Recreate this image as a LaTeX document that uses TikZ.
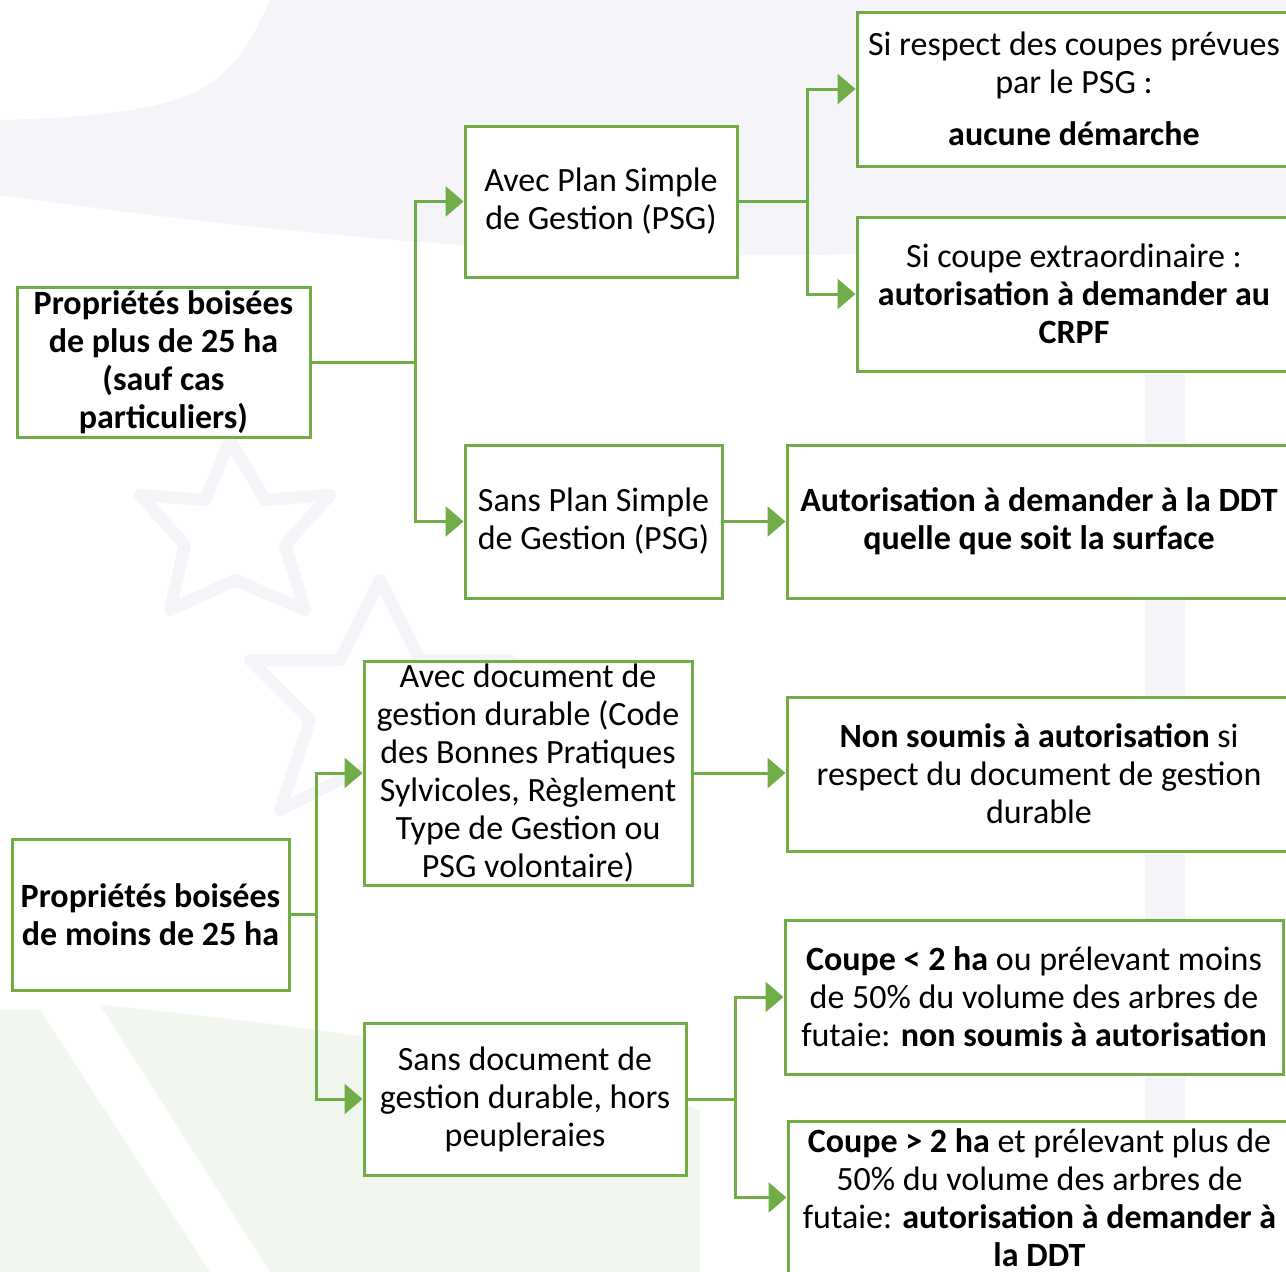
\documentclass[tikz,border=0pt]{standalone}
\usepackage{fontspec}
\setmainfont{Carlito}
\usetikzlibrary{arrows.meta}

\definecolor{psggreen}{HTML}{70AD47}
\definecolor{marklav}{HTML}{F4F4F9}
\definecolor{markgreen}{HTML}{F1F7EF}

\tikzset{
  box/.style={draw=psggreen, line width=3pt, fill=white, align=center, inner sep=0pt},
  link/.style={draw=psggreen, line width=3pt, line join=miter},
  arrowlink/.style={link, -{Triangle[length=18pt,width=30pt]}},
}

\begin{document}
\begin{tikzpicture}[x=1pt,y=-1pt,font=\fontsize{34}{38}\selectfont]
\clip (0,0) rectangle (1286,1272);
\fill[white] (0,0) rectangle (1286,1272);
% faint watermark behind the chart
\fill[marklav] (270,0) .. controls (230,90) and (200,115) .. (0,120) -- (0,195)
  .. controls (250,230) and (600,270) .. (950,250) -- (1286,250) -- (1286,0) -- cycle;
\fill[marklav] (1145,0) rectangle (1185,1272);
\fill[markgreen] (0,1010) -- (40,1010) -- (210,1272) -- (0,1272) -- cycle;
\fill[markgreen] (100,1005) .. controls (350,1030) and (550,1060) .. (700,1110)
  -- (700,1272) -- (270,1272) -- cycle;
\draw[marklav, line width=12pt, line join=round]
  (230,440) -- (265,500) -- (330,495) -- (285,545) -- (305,610) -- (235,580)
  -- (170,610) -- (185,545) -- (140,495) -- (205,500) -- cycle;
\draw[marklav, line width=12pt, line join=round]
  (380,580) -- (420,660) -- (510,660) -- (450,720) -- (480,810) -- (380,760)
  -- (280,810) -- (310,720) -- (250,660) -- (340,660) -- cycle;

% properties over 25 ha
\node[box, minimum width=293pt, minimum height=150pt, font=\fontsize{34}{38}\selectfont\bfseries]
  (plus) at (163.5,362) {Propriétés boisées\\ de plus de 25 ha\\ (sauf cas\\ particuliers)};
\node[box, minimum width=272pt, minimum height=151pt] (avecpsg) at (601,201.5)
  {Avec Plan Simple\\ de Gestion (PSG)};
\node[box, minimum width=257pt, minimum height=153pt] (sanspsg) at (593.5,521.5)
  {Sans Plan Simple\\ de Gestion (PSG)};
\node[box, minimum width=434pt, minimum height=154pt] (respect) at (1074,89)
  {Si respect des coupes prévues\\ par le PSG :\\[14pt] \textbf{aucune démarche}};
\node[box, minimum width=434pt, minimum height=154pt] (extra) at (1074,294)
  {Si coupe extraordinaire :\\ \textbf{autorisation à demander au}\\ \textbf{CRPF}};
\node[box, minimum width=504pt, minimum height=153pt] (ddt) at (1039,521.5)
  {\textbf{Autorisation à demander à la DDT}\\ \textbf{quelle que soit la surface}};

% properties under 25 ha
\node[box, minimum width=277pt, minimum height=151pt, font=\fontsize{34}{38}\selectfont\bfseries]
  (moins) at (150.5,914.5) {Propriétés boisées\\ de moins de 25 ha};
\node[box, minimum width=328pt, minimum height=224pt] (avecdoc) at (528,773)
  {Avec document de\\ gestion durable (Code\\ des Bonnes Pratiques\\ Sylvicoles, Règlement\\ Type de Gestion ou\\ PSG volontaire)};
\node[box, minimum width=322pt, minimum height=152pt] (sansdoc) at (525,1099)
  {Sans document de\\ gestion durable, hors\\ peupleraies};
\node[box, minimum width=504pt, minimum height=154pt] (nonsoumis) at (1039,774)
  {\textbf{Non soumis à autorisation} si\\ respect du document de gestion\\ durable};
\node[box, minimum width=498pt, minimum height=154pt] (petite) at (1034,997)
  {\textbf{Coupe < 2 ha} ou prélevant moins\\ de 50\% du volume des arbres de\\ futaie: \textbf{non soumis à autorisation}};
\node[box, minimum width=503pt, minimum height=153pt] (grande) at (1039.5,1197.5)
  {\textbf{Coupe > 2 ha} et prélevant plus de\\ 50\% du volume des arbres de\\ futaie: \textbf{autorisation à demander à}\\ \textbf{la DDT}};

% connectors
\coordinate (j1) at (415,362);
\coordinate (j2) at (807,201.5);
\coordinate (j3) at (316,914.5);
\coordinate (j4) at (735,1099);
\draw[link] (plus.east) -- (j1);
\draw[arrowlink] (j1) |- (avecpsg.west);
\draw[arrowlink] (j1) |- (sanspsg.west);
\draw[link] (avecpsg.east) -- (j2);
\draw[arrowlink] (j2) |- (respect.west);
\draw[arrowlink] (j2) |- (extra.west);
\draw[arrowlink] (sanspsg.east) -- (ddt.west);
\draw[link] (moins.east) -- (j3);
\draw[arrowlink] (j3) |- (avecdoc.west);
\draw[arrowlink] (j3) |- (sansdoc.west);
\draw[arrowlink] (avecdoc.east) -- (avecdoc.east -| nonsoumis.west);
\draw[link] (sansdoc.east) -- (j4);
\draw[arrowlink] (j4) |- (petite.west);
\draw[arrowlink] (j4) |- (grande.west);
\end{tikzpicture}
\end{document}
